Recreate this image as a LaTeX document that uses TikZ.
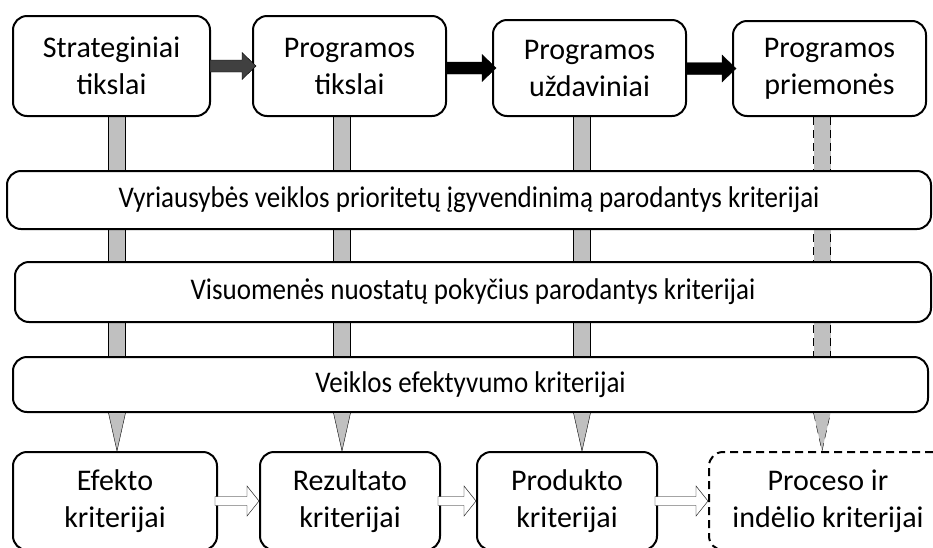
\documentclass[tikz,border=0pt]{standalone}
\usepackage{fontspec}
\setmainfont{Carlito}
\newfontfamily\narrowfont[FakeStretch=0.9]{Carlito}
\usetikzlibrary{calc}
\pgfdeclarelayer{bg}
\pgfsetlayers{bg,main}
\definecolor{barfill}  {RGB}{192,192,192}
\definecolor{darkarrow}{RGB}{64,64,64}

\begin{document}
\begin{tikzpicture}[
  x=1pt,y=-1pt,
  line width=2pt,
  goal/.style ={draw,fill=white,rounded corners=14pt,align=center,
                font=\fontsize{30}{37}\selectfont,minimum height=100pt},
  crit/.style ={draw,fill=white,rounded corners=14pt,
                font=\narrowfont\fontsize{30}{37}\selectfont,minimum height=57pt},
  meas/.style ={draw,fill=white,rounded corners=14pt,align=center,
                font=\fontsize{30}{37}\selectfont,minimum height=98pt},
  dashbar/.style={dash pattern=on 8pt off 5pt},
]
\useasboundingbox (0,0) rectangle (933,547);
\clip (0,0) rectangle (933,547);

%% ── Row 1: program goals ─────────────────────────────────────────────────────
\node[goal,minimum width=197pt] (strat) at (111.5,66) {Strateginiai\\tikslai};
\node[goal,minimum width=193pt] (ptiks) at (349.5,66) {Programos\\tikslai};
\node[goal,minimum width=193pt,minimum height=96pt] (puzd) at (589.5,68)
  {Programos\\uždaviniai};
\node[goal,minimum width=193pt,minimum height=95pt] (pprie) at (829.5,68.5)
  {Programos\\priemonės};

%% ── Criteria bands ───────────────────────────────────────────────────────────
\node[crit,minimum width=924pt,minimum height=58pt] (vyr) at (469,200)
  {Vyriausybės veiklos prioritetų įgyvendinimą parodantys kriterijai};
\node[crit,minimum width=916pt,minimum height=60pt] (vis) at (473,292)
  {Visuomenės nuostatų pokyčius parodantys kriterijai};
\node[crit,minimum width=915pt,minimum height=55pt] (veik) at (470.5,384.5)
  {Veiklos efektyvumo kriterijai};

%% ── Row 2: criteria levels ───────────────────────────────────────────────────
\node[meas,minimum width=204pt] (efekt)  at (115,501) {Efekto\\kriterijai};
\node[meas,minimum width=180pt] (rezult) at (350,501) {Rezultato\\kriterijai};
\node[meas,minimum width=180pt] (prod)   at (567,501) {Produkto\\kriterijai};
\node[meas,dashbar,minimum width=238pt] (proc) at (828,501)
  {Proceso ir\\indėlio kriterijai};

%% ── Vertical bars behind the bands, pointers into row 2 ─────────────────────
\foreach \x/\a/\b/\ls in {117/strat/efekt/solid, 342/ptiks/rezult/solid,
                          582/puzd/prod/solid, 822/pprie/proc/dashbar}{
  \coordinate (bx) at (\x,0);
  \begin{pgfonlayer}{bg}
    \fill[barfill] ($(bx |- \a.south)+(-8.5,0)$) rectangle ($(bx |- veik.south)+(8.5,0)$);
    \draw[\ls] ($(bx |- \a.south)+(-8.5,0)$) -- ($(bx |- veik.south)+(-8.5,0)$);
    \draw[\ls] ($(bx |- \a.south)+(8.5,0)$) -- ($(bx |- veik.south)+(8.5,0)$);
  \end{pgfonlayer}
  \fill[barfill] ($(bx |- veik.south)+(-8.5,0)$) -- (bx |- \b.north)
    -- ($(bx |- veik.south)+(8.5,0)$) -- cycle;
  \draw[\ls,line join=miter] ($(bx |- veik.south)+(-8.5,0)$) -- (bx |- \b.north)
    -- ($(bx |- veik.south)+(8.5,0)$);
}

%% ── Block arrows: goals ──────────────────────────────────────────────────────
\foreach \a/\b/\c in {strat/ptiks/darkarrow, ptiks/puzd/black, puzd/pprie/black}
  \filldraw[fill=\c,line join=miter]
    ($(\a.east |- \b.west)+(-1,-6)$) -- ($(\b.west)+(-10,-6)$)
    -- ($(\b.west)+(-10,-13.5)$) -- ($(\b.west)+(4,0)$)
    -- ($(\b.west)+(-10,13.5)$) -- ($(\b.west)+(-10,6)$)
    -- ($(\a.east |- \b.west)+(-1,6)$) -- cycle;

%% ── Hollow arrows: criteria levels ──────────────────────────────────────────
\foreach \a/\b in {efekt/rezult, rezult/prod, prod/proc}
  \filldraw[fill=white,line join=miter]
    ($(\a.east |- \b.west)+(-3,-4.5)$) -- ($(\b.west)+(-12,-4.5)$)
    -- ($(\b.west)+(-12,-15)$) -- ($(\b.west)+(0,0)$)
    -- ($(\b.west)+(-12,15)$) -- ($(\b.west)+(-12,4.5)$)
    -- ($(\a.east |- \b.west)+(-3,4.5)$) -- cycle;

\end{tikzpicture}
\end{document}
